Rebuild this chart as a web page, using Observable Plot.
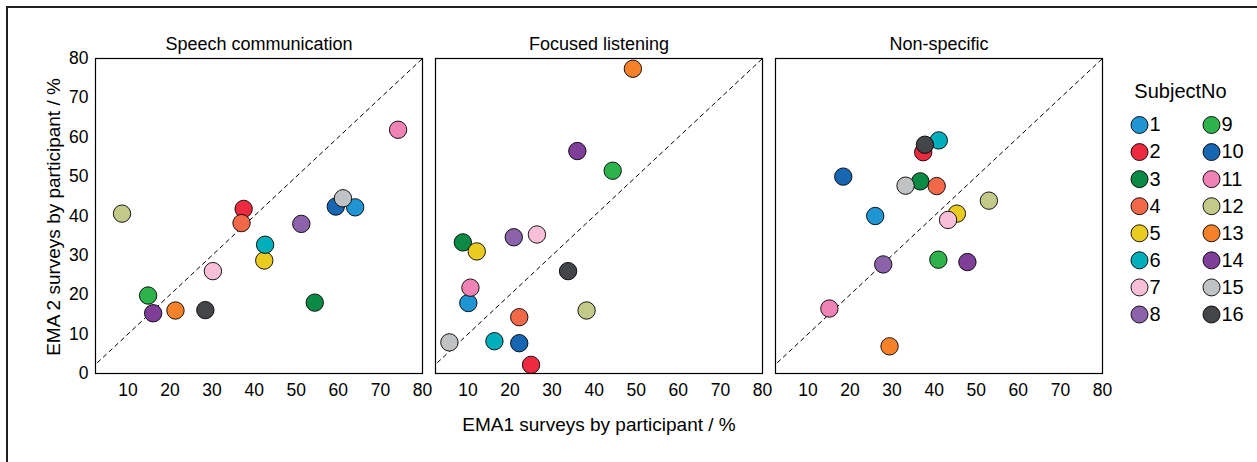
<!DOCTYPE html>
<html><head><meta charset="utf-8">
<script src="https://cdn.jsdelivr.net/npm/d3@7"></script>
<script src="https://cdn.jsdelivr.net/npm/@observablehq/plot@0.6"></script>
<style>
html,body{margin:0;padding:0;background:#fff;}
#wrap{position:relative;width:1257px;height:462px;overflow:hidden;font-family:"Liberation Sans",Arial,sans-serif;}
#main{position:absolute;left:0;top:0;}
#legend{position:absolute;left:1100px;top:0;}
#border{position:absolute;left:6px;top:6px;width:1300px;height:500px;border-top:2px solid #231f20;border-left:2px solid #231f20;pointer-events:none;}
</style></head><body>
<div id="wrap"><div id="main"></div><div id="legend"></div><div id="border"></div></div>
<script>
const conditions = ["Speech communication", "Focused listening", "Non-specific"];
const subjects = [1, 2, 3, 4, 5, 6, 7, 8, 9, 10, 11, 12, 13, 14, 15, 16];
const colors = ["#1f96d3", "#ee2a40", "#0a8a45", "#f2694a", "#e9cc1f", "#00afba", "#f7bfd8", "#8c63aa",
                "#2db34b", "#1766b1", "#ef83b5", "#c3c988", "#f5822b", "#7f3f98", "#c1c2c4", "#434548"];
const xTicks = [10, 20, 30, 40, 50, 60, 70, 80];
const yTicks = [0, 10, 20, 30, 40, 50, 60, 70, 80];
const diag = [0, 80];
const xLabel = "EMA1 surveys by participant / %";
const yLabel = "EMA 2 surveys by participant / %";
const legendTitle = "SubjectNo";

const speechX = [64, 37.5, 54.4, 37, 42.4, 42.6, 30.2, 51.2, 14.8, 59.4, 74.2, 8.6, 21.3, 16, 61.1, 28.4];
const speechY = [42.2, 41.8, 18, 38.2, 28.7, 32.7, 26, 38, 19.8, 42.4, 61.9, 40.6, 16, 15.3, 44.5, 16.1];
const focusX = [10.1, 25, 8.8, 22.2, 12.1, 16.3, 26.4, 20.9, 44.4, 22.2, 10.6, 38.2, 49.2, 36, 5.6, 33.8];
const focusY = [17.9, 2.2, 33.3, 14.3, 31, 8.2, 35.3, 34.6, 51.5, 7.7, 21.8, 16, 77.4, 56.5, 7.9, 26];
const nonX = [26, 37.4, 36.7, 40.6, 45.4, 41.1, 43.3, 27.9, 41, 18.4, 15.1, 53, 29.4, 47.9, 33.2, 37.8];
const nonY = [40, 56.2, 48.8, 47.6, 40.6, 59.2, 39, 27.7, 28.9, 50, 16.5, 43.9, 6.9, 28.3, 47.7, 58.1];

const series = [[speechX, speechY], [focusX, focusY], [nonX, nonY]];
const rows = [];
conditions.forEach((c, ci) => {
  subjects.forEach((s, i) => rows.push({cond: c, subject: s, x: series[ci][0][i], y: series[ci][1][i]}));
});

const font = "'Liberation Sans', Arial, sans-serif";

const main = Plot.plot({
  width: 1257, height: 462,
  marginLeft: 94, marginRight: 155, marginTop: 58, marginBottom: 89,
  style: {fontFamily: font, fontSize: "17.5px", color: "#000", background: "transparent", overflow: "visible"},
  fx: {domain: conditions, padding: 0.0397, label: null},
  x: {domain: [2.3, 80], label: null},
  y: {domain: [0, 80], label: null},
  color: {type: "ordinal", domain: subjects, range: colors},
  marks: [
    Plot.line(diag, {x: d => d, y: d => d, stroke: "#000", strokeWidth: 1, strokeDasharray: "4,4", clip: true}),
    Plot.dot(rows, {x: "x", y: "y", fx: "cond", fill: "subject", r: 8.7, stroke: "#000", strokeWidth: 0.9}),
    Plot.frame({stroke: "#000", strokeWidth: 1.2}),
    Plot.axisFx({anchor: "top", label: null, tickSize: 0, tickPadding: 9, fontSize: 18}),
    Plot.axisX({ticks: xTicks, tickFormat: d => String(d), tickSize: 0, tickPadding: 10, label: null}),
    Plot.axisY({ticks: yTicks, tickFormat: d => String(d), tickSize: 0, tickPadding: 7, label: null}),
    Plot.text([xLabel], {facet: "super", frameAnchor: "bottom", lineAnchor: "middle", textAnchor: "middle", dy: 51, fontSize: 19}),
    Plot.text([yLabel], {facet: "super", frameAnchor: "left", lineAnchor: "middle", textAnchor: "middle", rotate: -90, dx: -42, dy: 1, fontSize: 19})
  ]
});
document.getElementById("main").appendChild(main);

const legend = Plot.plot({
  width: 157, height: 462, margin: 0,
  style: {fontFamily: font, fontSize: "20px", color: "#000", background: "transparent"},
  x: {domain: [0, 1], range: [39, 111], axis: null},
  y: {domain: [0, 7], range: [124.5, 314], axis: null},
  color: {type: "ordinal", domain: subjects, range: colors},
  marks: [
    Plot.dot(subjects, {x: (d, i) => Math.floor(i / 8), y: (d, i) => i % 8, fill: d => d, r: 8.5, stroke: "#000", strokeWidth: 0.9}),
    Plot.text(subjects, {x: (d, i) => Math.floor(i / 8), y: (d, i) => i % 8, text: d => String(d), dx: 10, textAnchor: "start", fontSize: 20}),
    Plot.text([legendTitle], {frameAnchor: "top", lineAnchor: "middle", textAnchor: "middle", dy: 91, dx: 1.5, fontSize: 20})
  ]
});
document.getElementById("legend").appendChild(legend);
</script>
</body></html>
